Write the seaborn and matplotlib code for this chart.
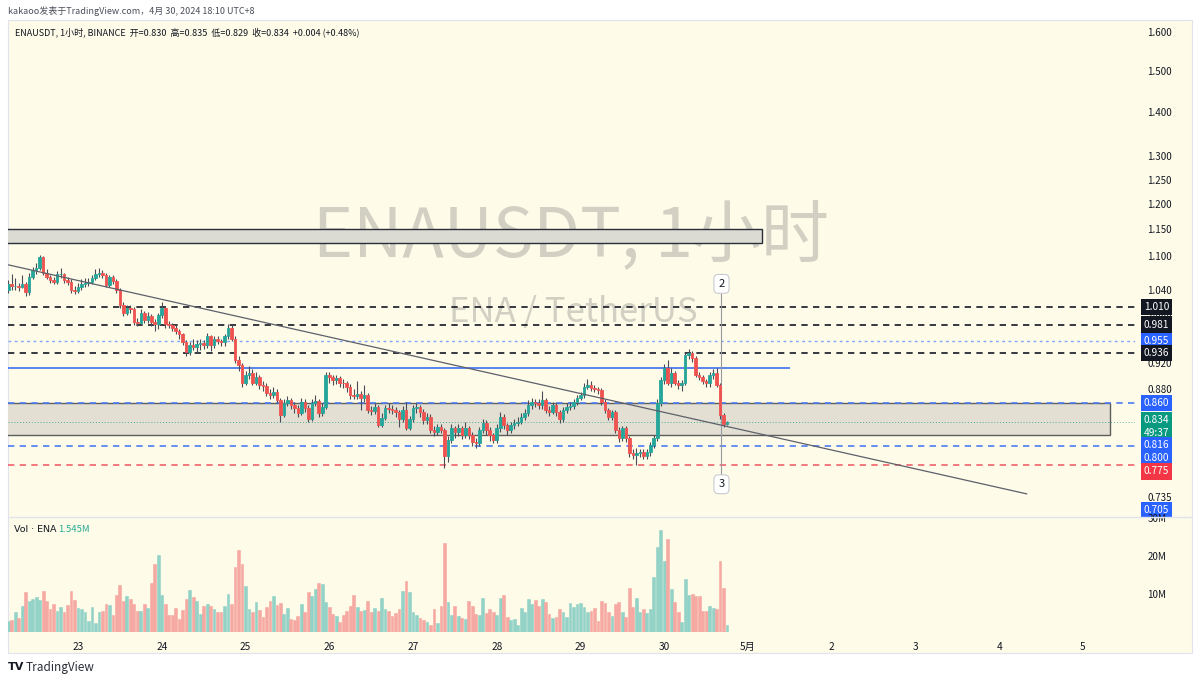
import numpy as np
import matplotlib
matplotlib.use("Agg")
import matplotlib.pyplot as plt
from matplotlib.patches import Rectangle
from matplotlib.lines import Line2D
from matplotlib.ticker import FixedLocator, FixedFormatter, NullLocator
import seaborn as sns

# ENAUSDT 1h candles, index 0 = Apr 22 04:00 ... index 206 = Apr 30 18:00
first_open = 1.039
closes = [
    1.050, 1.046, 1.046, 1.045, 1.050, 1.036, 1.062, 1.075, 1.078, 1.098,
    1.070, 1.062, 1.057, 1.054, 1.068, 1.068, 1.056, 1.053, 1.039, 1.038,
    1.044, 1.049, 1.052, 1.054, 1.061, 1.068, 1.070, 1.066, 1.048, 1.062,
    1.055, 1.039, 1.014, 1.000, 1.008, 1.006, 0.985, 0.983, 1.000, 0.988,
    0.995, 0.985, 0.982, 0.997, 1.008, 0.982, 0.980, 0.975, 0.970, 0.965,
    0.952, 0.937, 0.948, 0.945, 0.950, 0.951, 0.948, 0.962, 0.948, 0.957,
    0.955, 0.952, 0.962, 0.976, 0.958, 0.925, 0.917, 0.890, 0.902, 0.905,
    0.890, 0.899, 0.887, 0.885, 0.875, 0.872, 0.876, 0.865, 0.843, 0.861,
    0.865, 0.858, 0.853, 0.846, 0.862, 0.853, 0.838, 0.861, 0.863, 0.846,
    0.855, 0.902, 0.899, 0.894, 0.897, 0.890, 0.889, 0.884, 0.872, 0.871,
    0.873, 0.868, 0.872, 0.850, 0.849, 0.855, 0.829, 0.839, 0.853, 0.852,
    0.850, 0.847, 0.838, 0.850, 0.825, 0.838, 0.853, 0.855, 0.848, 0.836,
    0.840, 0.822, 0.820, 0.826, 0.822, 0.787, 0.809, 0.825, 0.820, 0.825,
    0.815, 0.825, 0.816, 0.806, 0.804, 0.822, 0.832, 0.822, 0.815, 0.809,
    0.825, 0.840, 0.829, 0.822, 0.829, 0.832, 0.834, 0.840, 0.846, 0.858,
    0.862, 0.861, 0.858, 0.865, 0.850, 0.848, 0.857, 0.847, 0.838, 0.850,
    0.855, 0.856, 0.862, 0.868, 0.872, 0.883, 0.887, 0.882, 0.881, 0.879,
    0.862, 0.850, 0.840, 0.847, 0.822, 0.811, 0.825, 0.811, 0.791, 0.789,
    0.791, 0.793, 0.787, 0.792, 0.802, 0.811, 0.861, 0.894, 0.912, 0.890,
    0.905, 0.890, 0.886, 0.889, 0.932, 0.935, 0.928, 0.902, 0.899, 0.892,
    0.889, 0.902, 0.905, 0.887, 0.843, 0.830, 0.834,
]
highs = [
    1.056, 1.068, 1.060, 1.052, 1.066, 1.054, 1.070, 1.080, 1.088, 1.102,
    1.100, 1.076, 1.066, 1.062, 1.072, 1.078, 1.070, 1.062, 1.058, 1.046,
    1.052, 1.058, 1.060, 1.060, 1.066, 1.076, 1.078, 1.074, 1.070, 1.066,
    1.066, 1.058, 1.042, 1.018, 1.014, 1.014, 1.010, 0.992, 1.006, 1.004,
    1.002, 0.998, 0.990, 1.000, 1.018, 1.012, 0.986, 0.984, 0.980, 0.974,
    0.968, 0.956, 0.952, 0.958, 0.956, 0.958, 0.956, 0.968, 0.964, 0.962,
    0.962, 0.958, 0.966, 0.982, 0.980, 0.962, 0.930, 0.920, 0.908, 0.916,
    0.910, 0.906, 0.902, 0.892, 0.890, 0.880, 0.884, 0.880, 0.868, 0.866,
    0.870, 0.868, 0.862, 0.858, 0.868, 0.866, 0.857, 0.866, 0.872, 0.866,
    0.860, 0.906, 0.906, 0.902, 0.902, 0.900, 0.896, 0.892, 0.888, 0.880,
    0.892, 0.878, 0.886, 0.875, 0.856, 0.860, 0.858, 0.846, 0.858, 0.860,
    0.858, 0.855, 0.850, 0.856, 0.862, 0.842, 0.858, 0.860, 0.858, 0.852,
    0.846, 0.844, 0.828, 0.830, 0.830, 0.825, 0.814, 0.830, 0.828, 0.830,
    0.828, 0.834, 0.828, 0.820, 0.812, 0.826, 0.838, 0.836, 0.826, 0.818,
    0.830, 0.848, 0.844, 0.832, 0.834, 0.838, 0.840, 0.846, 0.852, 0.864,
    0.868, 0.866, 0.866, 0.878, 0.868, 0.856, 0.862, 0.860, 0.850, 0.854,
    0.860, 0.862, 0.866, 0.872, 0.876, 0.890, 0.896, 0.892, 0.886, 0.884,
    0.882, 0.866, 0.853, 0.850, 0.850, 0.826, 0.828, 0.828, 0.814, 0.796,
    0.798, 0.797, 0.796, 0.796, 0.806, 0.816, 0.866, 0.898, 0.918, 0.925,
    0.912, 0.908, 0.894, 0.894, 0.936, 0.941, 0.938, 0.930, 0.906, 0.902,
    0.896, 0.906, 0.910, 0.912, 0.890, 0.846, 0.835,
]
lows = [
    1.034, 1.040, 1.040, 1.038, 1.042, 1.029, 1.030, 1.058, 1.068, 1.074,
    1.066, 1.058, 1.052, 1.050, 1.050, 1.060, 1.052, 1.048, 1.034, 1.033,
    1.034, 1.040, 1.044, 1.046, 1.050, 1.056, 1.062, 1.060, 1.044, 1.045,
    1.050, 1.034, 1.008, 0.995, 0.996, 1.000, 0.980, 0.978, 0.980, 0.984,
    0.984, 0.978, 0.970, 0.974, 0.992, 0.976, 0.975, 0.970, 0.966, 0.958,
    0.948, 0.930, 0.932, 0.940, 0.936, 0.940, 0.942, 0.944, 0.938, 0.944,
    0.950, 0.947, 0.946, 0.958, 0.954, 0.920, 0.908, 0.884, 0.886, 0.896,
    0.886, 0.886, 0.880, 0.878, 0.870, 0.866, 0.868, 0.860, 0.833, 0.840,
    0.856, 0.852, 0.846, 0.840, 0.843, 0.848, 0.834, 0.835, 0.856, 0.840,
    0.842, 0.852, 0.890, 0.886, 0.888, 0.884, 0.882, 0.876, 0.866, 0.866,
    0.866, 0.850, 0.862, 0.846, 0.843, 0.844, 0.826, 0.826, 0.836, 0.846,
    0.844, 0.840, 0.826, 0.834, 0.822, 0.822, 0.834, 0.846, 0.840, 0.830,
    0.830, 0.818, 0.814, 0.816, 0.818, 0.772, 0.780, 0.805, 0.812, 0.814,
    0.810, 0.812, 0.810, 0.800, 0.798, 0.800, 0.818, 0.816, 0.808, 0.804,
    0.805, 0.820, 0.824, 0.816, 0.818, 0.824, 0.828, 0.830, 0.836, 0.842,
    0.852, 0.855, 0.852, 0.852, 0.846, 0.842, 0.844, 0.842, 0.832, 0.834,
    0.846, 0.850, 0.852, 0.858, 0.864, 0.868, 0.880, 0.878, 0.876, 0.874,
    0.858, 0.846, 0.836, 0.836, 0.818, 0.806, 0.808, 0.806, 0.786, 0.784,
    0.776, 0.786, 0.783, 0.783, 0.788, 0.798, 0.808, 0.856, 0.888, 0.886,
    0.884, 0.886, 0.880, 0.878, 0.886, 0.926, 0.922, 0.898, 0.894, 0.888,
    0.884, 0.884, 0.896, 0.884, 0.838, 0.826, 0.829,
]
# volume in millions
volumes = [
    3.0, 3.2, 5.3, 3.7, 6.9, 10.5, 8.1, 8.8, 9.1, 8.5,
    10.7, 8.2, 6.1, 7.4, 5.6, 6.6, 5.4, 7.0, 10.7, 8.5,
    6.3, 6.1, 5.4, 3.0, 6.5, 2.5, 5.2, 5.6, 7.4, 7.0,
    4.6, 9.8, 12.5, 8.1, 9.6, 8.8, 7.4, 5.5, 5.5, 7.4,
    6.3, 12.9, 18.0, 20.4, 9.8, 7.4, 4.6, 4.4, 6.3, 3.5,
    5.8, 8.8, 11.0, 9.1, 8.1, 4.7, 6.8, 7.4, 6.8, 6.1,
    5.2, 5.2, 6.8, 10.0, 7.4, 17.1, 21.5, 17.9, 12.2, 6.1,
    5.4, 8.0, 5.8, 3.9, 6.7, 8.2, 9.4, 7.0, 7.7, 4.8,
    6.3, 3.4, 3.1, 4.1, 7.4, 5.4, 10.5, 9.6, 11.4, 12.9,
    12.6, 7.8, 6.5, 4.7, 4.3, 2.6, 4.6, 5.6, 6.8, 9.8,
    6.5, 5.6, 5.9, 8.1, 5.4, 6.3, 5.6, 8.9, 6.0, 5.6,
    4.2, 4.9, 6.1, 10.8, 13.5, 10.5, 5.3, 4.5, 3.8, 3.2,
    2.6, 1.8, 6.1, 2.3, 6.8, 23.5, 7.9, 4.6, 6.9, 4.2,
    3.8, 3.4, 8.2, 6.8, 4.8, 4.6, 9.0, 5.0, 6.0, 5.3,
    4.6, 9.0, 9.8, 3.9, 3.2, 3.5, 1.8, 6.3, 5.2, 8.7,
    7.4, 8.4, 6.8, 8.6, 7.9, 4.7, 3.7, 3.9, 6.0, 5.2,
    3.9, 7.6, 6.6, 7.4, 7.6, 6.6, 5.3, 5.5, 6.2, 2.9,
    8.2, 7.7, 5.3, 4.2, 7.5, 7.9, 5.3, 3.9, 11.5, 6.6,
    9.0, 5.3, 6.0, 5.0, 6.0, 14.6, 22.4, 27.0, 18.8, 24.6,
    11.3, 7.9, 5.3, 2.6, 13.9, 9.8, 10.0, 9.5, 9.4, 5.6,
    5.6, 6.8, 6.2, 6.0, 18.6, 11.5, 1.8,
]

day_hours = [20, 44, 68, 92, 116, 140, 164, 188, 212, 236, 260, 284, 308]
day_labels = ['23', '24', '25', '26', '27', '28', '29', '30', '5月', '2', '3', '4', '5']
price_ticks = [1.600, 1.500, 1.400, 1.300, 1.250, 1.200, 1.150, 1.100,
               1.040, 1.000, 0.920, 0.880, 0.840, 0.735]
vol_ticks = [10, 20, 30]

black_levels = [1.010, 0.981, 0.936]
blue_dotted_level = 0.955
blue_dashed_levels = [0.860, 0.800]
red_dashed_level = 0.775
last_price = 0.834
zone_low, zone_high, zone_end = 0.816, 0.860, 315.7
top_zone_low, top_zone_high, top_zone_end = 1.124, 1.150, 216
blue_line_level, blue_line_end = 0.912, 224
trend_x = [0, 291.9]
trend_y = [1.084, 0.739]
marker_x, marker_top, marker_bottom = 204.4, 1.036, 0.761
marker_labels = [('2', 1.050), ('3', 0.751)]

# price tags on the right scale: text, value, colour, shift down in px
tags = [
    ('1.010', 1.010, '#131722', 0),
    ('0.981', 0.981, '#131722', 0),
    ('0.955', 0.955, '#2962ff', 0),
    ('0.936', 0.936, '#131722', 0),
    ('0.860', 0.860, '#2962ff', 0),
    ('0.834\n49:37', 0.834, '#089981', 5),
    ('0.816', 0.816, '#2962ff', 10.5),
    ('0.800', 0.800, '#2962ff', 12),
    ('0.775', 0.775, '#f23645', 6),
]

W, H = 1200, 681
CREAM = '#fefbe8'
UP, DOWN = '#26a69a', '#ef5350'
VUP, VDOWN = '#93d2c6', '#f6a8a2'
TXT = '#131722'


def fx(px):
    return px / W


def fy(py):
    return 1 - py / H


def main():
    sns.set_theme(style="white")
    plt.rcParams['font.family'] = ['Noto Sans CJK SC', 'DejaVu Sans']

    fig = plt.figure(figsize=(12, 6.81), dpi=100)
    fig.patch.set_facecolor('white')
    fig.patches.append(Rectangle((fx(8), fy(653)), 1184 / W, 633 / H, transform=fig.transFigure,
                                 fc=CREAM, ec='#e0e3eb', lw=0.8, zorder=-5))
    fig.add_artist(Line2D([fx(8), fx(1192)], [fy(517), fy(517)], color='#e0e3eb', lw=1))

    ax = fig.add_axes([fx(8), fy(517), 1127 / W, 497 / H])
    axv = fig.add_axes([fx(8), fy(632), 1127 / W, 115 / H])
    for a in (ax, axv):
        a.set_facecolor('none')
        for s in a.spines.values():
            s.set_visible(False)
        a.set_xlim(-0.06, 322.9)

    x = np.arange(len(closes))
    c = np.array(closes)
    o = np.array([first_open] + closes[:-1])
    up = c >= o

    # === price pane ===
    ax.set_yscale('log')
    ax.set_ylim(0.711, 1.6325)

    ax.text(fx(571), fy(237), 'ENAUSDT, 1小时', transform=fig.transFigure, ha='center', va='center',
            fontsize=49, color='#d2cfc3', zorder=0)
    ax.text(fx(573), fy(313), 'ENA / TetherUS', transform=fig.transFigure, ha='center', va='center',
            fontsize=25, color='#d2cfc3', zorder=0)

    ax.add_patch(Rectangle((-1, zone_low), zone_end + 1, zone_high - zone_low,
                           fc='#e3e0d3', ec='#5d5d5d', lw=1, zorder=1))
    ax.add_patch(Rectangle((-1, top_zone_low), top_zone_end + 1, top_zone_high - top_zone_low,
                           fc='#dcdbd3', ec='#2a2e39', lw=1, zorder=1))
    ax.hlines(blue_line_level, -1, blue_line_end, color='#3d6ef0', lw=1.2, zorder=2)

    for v in black_levels:
        ax.axhline(v, color=TXT, lw=1.2, ls=(0, (3.8, 3.2)), zorder=2)
    ax.axhline(blue_dotted_level, color='#7ea6fa', lw=1.0, ls=(0, (2, 2.5)), zorder=2)
    for v in blue_dashed_levels:
        ax.axhline(v, color='#4c7cf3', lw=1.2, ls=(0, (3.8, 3.2)), zorder=2)
    ax.axhline(red_dashed_level, color='#f0616d', lw=1.2, ls=(0, (3.8, 3.2)), zorder=2)
    ax.axhline(last_price, color='#089981', lw=0.7, ls=(0, (1, 2)), alpha=0.7, zorder=2)

    ax.vlines(marker_x, marker_bottom, marker_top, color='#9598a1', lw=0.8, zorder=3)
    for lab, val in marker_labels:
        ax.text(marker_x, val, lab, ha='center', va='center', fontsize=8, color=TXT, zorder=8,
                bbox=dict(boxstyle='round,pad=0.4', fc='white', ec='#c9cbd1', lw=0.8))

    # candles
    ax.vlines(x, lows, highs, color='#4a4d57', lw=0.8, zorder=4)
    body_col = np.where(up, UP, DOWN)
    ax.bar(x, np.abs(c - o), bottom=np.minimum(o, c), width=0.74, color=body_col,
           edgecolor=body_col, lw=0.6, zorder=5)

    sns.lineplot(x=trend_x, y=trend_y, ax=ax, color='#5d606b', lw=0.9, zorder=6)
    ax.set_xlabel('')
    ax.set_ylabel('')

    ax.yaxis.tick_right()
    ax.yaxis.set_major_locator(FixedLocator(price_ticks))
    ax.yaxis.set_major_formatter(FixedFormatter([f'{t:.3f}' for t in price_ticks]))
    ax.yaxis.set_minor_locator(NullLocator())
    ax.tick_params(axis='y', which='both', length=0, pad=9, labelsize=7, labelcolor=TXT)
    ax.set_xticks([])

    for lab, val, col, dy in tags:
        ax.annotate(lab, xy=(1, val), xycoords=('axes fraction', 'data'), xytext=(15.5, -dy * 0.72),
                    textcoords='offset points', ha='center', va='center', fontsize=7.3, color='white',
                    linespacing=1.3, annotation_clip=False, zorder=10,
                    bbox=dict(boxstyle='square,pad=0.3', fc=col, ec='none'))
    ax.annotate('0.705', xy=(1, 0), xycoords='axes fraction', xytext=(15.5, 5),
                textcoords='offset points', ha='center', va='center', fontsize=7.3, color='white',
                annotation_clip=False, zorder=10,
                bbox=dict(boxstyle='square,pad=0.3', fc='#2962ff', ec='none'))

    # === volume pane ===
    vcol = np.where(up, VUP, VDOWN)
    axv.bar(x, volumes, width=0.8, color=vcol, edgecolor=vcol, lw=0.4, zorder=2)
    axv.set_ylim(0, 30.3)
    axv.yaxis.tick_right()
    axv.set_yticks(vol_ticks, [f'{t}M' for t in vol_ticks])
    axv.set_xticks(day_hours, day_labels)
    axv.tick_params(axis='y', length=0, pad=9, labelsize=7, labelcolor=TXT)
    axv.tick_params(axis='x', length=0, pad=7, labelsize=7.3, labelcolor=TXT)

    # === texts ===
    fig.text(fx(8), fy(11), 'kakaoo发表于TradingView.com，4月 30, 2024 18:10 UTC+8',
             ha='left', va='center', fontsize=6.5, color='#4a4e59')
    fig.text(fx(15), fy(32), 'ENAUSDT, 1小时, BINANCE  开=0.830  高=0.835  低=0.829  收=0.834  +0.004 (+0.48%)',
             ha='left', va='center', fontsize=6.5, color=TXT)
    fig.text(fx(14), fy(529), 'Vol · ENA', ha='left', va='center', fontsize=6.8, color=TXT,
             family='DejaVu Sans')
    fig.text(fx(58), fy(529), '1.545M', ha='left', va='center', fontsize=6.8, color='#22ab94')
    fig.text(fx(8), fy(667), 'TV', ha='left', va='center', fontsize=8, weight='bold',
             color=TXT, family='DejaVu Sans')
    fig.text(fx(26), fy(667), 'TradingView', ha='left', va='center', fontsize=8.5, color='#2a2e39')

    fig.savefig('out.png', dpi=100)
    plt.close(fig)


if __name__ == '__main__':
    main()
